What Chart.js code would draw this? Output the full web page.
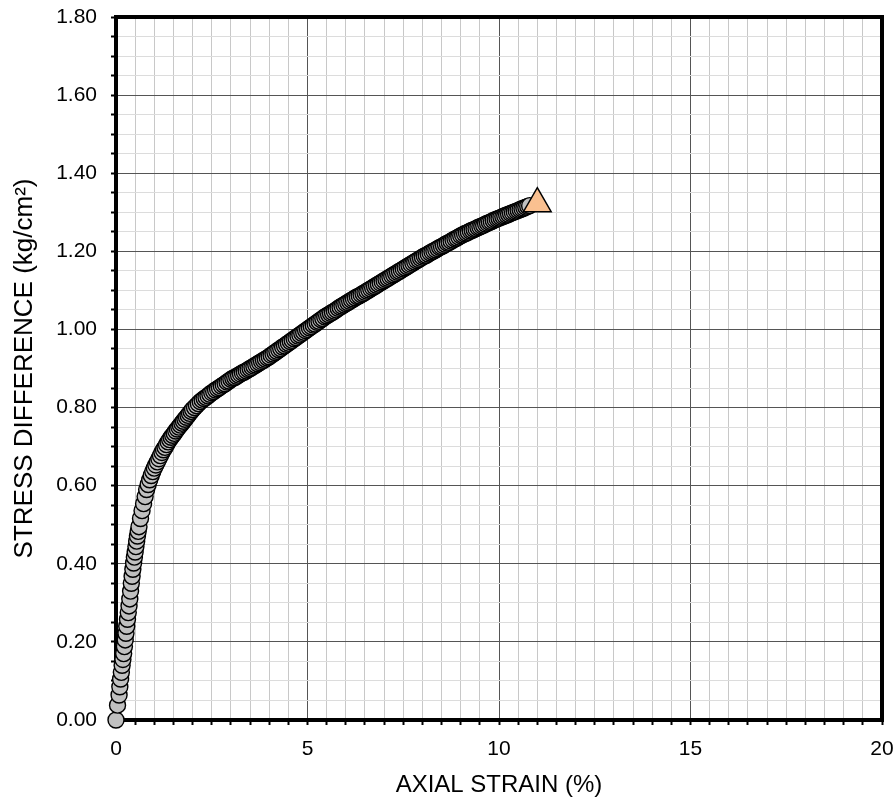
<!DOCTYPE html>
<html><head><meta charset="utf-8">
<script src="https://cdn.jsdelivr.net/npm/chart.js@4.4.1/dist/chart.umd.min.js"></script>
<style>html,body{margin:0;padding:0;background:#fff}canvas{display:block}</style>
</head><body>
<canvas id="c" width="893" height="800"></canvas>
<script>
// Axial strain (%) of each reading
const strain = [
0,0.04,0.08,0.10,0.12,0.14,0.16,0.18,0.20,0.22,0.24,0.26,0.28,0.30,0.32,0.34,0.36,0.38,0.40,0.42,0.44,0.46,0.48,0.50,0.52,0.54,0.56,0.58,0.60,
0.64,0.68,0.72,0.76,0.80,0.84,0.88,0.92,0.96,1.00,1.04,1.08,1.12,1.16,1.20,1.24,1.28,1.32,1.36,1.40,1.44,1.48,1.52,1.56,1.60,1.64,1.68,1.72,1.76,1.80,1.84,1.88,1.92,1.96,2.00,
2.05,2.1,2.15,2.2,2.25,2.3,2.35,2.4,2.45,2.5,2.55,2.6,2.65,2.7,2.75,2.8,2.85,2.9,2.95,
3,3.05,3.1,3.15,3.2,3.25,3.3,3.35,3.4,3.45,3.5,3.55,3.6,3.65,3.7,3.75,3.8,3.85,3.9,3.95,
4,4.05,4.1,4.15,4.2,4.25,4.3,4.35,4.4,4.45,4.5,4.55,4.6,4.65,4.7,4.75,4.8,4.85,4.9,4.95,
5,5.05,5.1,5.15,5.2,5.25,5.3,5.35,5.4,5.45,5.5,5.55,5.6,5.65,5.7,5.75,5.8,5.85,5.9,5.95,
6,6.05,6.1,6.15,6.2,6.25,6.3,6.35,6.4,6.45,6.5,6.55,6.6,6.65,6.7,6.75,6.8,6.85,6.9,6.95,
7,7.05,7.1,7.15,7.2,7.25,7.3,7.35,7.4,7.45,7.5,7.55,7.6,7.65,7.7,7.75,7.8,7.85,7.9,7.95,
8,8.05,8.1,8.15,8.2,8.25,8.3,8.35,8.4,8.45,8.5,8.55,8.6,8.65,8.7,8.75,8.8,8.85,8.9,8.95,
9,9.05,9.1,9.15,9.2,9.25,9.3,9.35,9.4,9.45,9.5,9.55,9.6,9.65,9.7,9.75,9.8,9.85,9.9,9.95,
10,10.05,10.1,10.15,10.2,10.25,10.3,10.35,10.4,10.45,10.5,10.55,10.6,10.65,10.7,10.75,10.8
];
// Stress difference (kg/cm2) of each reading
const stress = [
0.000,0.038,0.064,0.085,0.105,0.122,0.140,0.155,0.170,0.188,0.205,0.222,0.240,0.258,0.275,0.292,0.310,0.330,0.350,0.368,0.386,0.402,0.417,0.430,0.444,0.458,0.471,0.483,0.495,
0.516,0.536,0.554,0.572,0.590,0.603,0.615,0.626,0.636,0.645,0.653,0.661,0.669,0.677,0.685,0.692,0.698,0.705,0.712,0.718,0.724,0.729,0.734,0.740,0.745,0.750,0.755,0.760,0.765,0.770,0.775,0.780,0.785,0.790,0.795,
0.800,0.805,0.810,0.815,0.819,0.823,0.826,0.830,0.834,0.838,0.841,0.845,0.848,0.851,0.855,0.858,0.861,0.865,0.868,
0.872,0.875,0.877,0.880,0.883,0.886,0.889,0.891,0.894,0.897,0.900,0.903,0.906,0.909,0.912,0.915,0.918,0.921,0.924,0.927,
0.930,0.934,0.937,0.941,0.944,0.948,0.951,0.955,0.958,0.962,0.965,0.969,0.972,0.976,0.979,0.983,0.986,0.990,0.993,0.997,
1.000,1.004,1.007,1.011,1.014,1.018,1.021,1.025,1.028,1.032,1.035,1.038,1.041,1.044,1.047,1.050,1.054,1.057,1.060,1.063,
1.066,1.069,1.072,1.075,1.078,1.081,1.084,1.086,1.089,1.092,1.095,1.098,1.101,1.104,1.107,1.110,1.113,1.116,1.119,1.122,
1.125,1.128,1.131,1.134,1.137,1.140,1.143,1.146,1.149,1.152,1.155,1.158,1.161,1.164,1.167,1.170,1.173,1.176,1.179,1.182,
1.185,1.188,1.190,1.193,1.196,1.199,1.201,1.204,1.207,1.210,1.212,1.215,1.218,1.221,1.223,1.226,1.229,1.232,1.234,1.237,
1.240,1.242,1.245,1.247,1.249,1.252,1.254,1.256,1.258,1.261,1.263,1.265,1.267,1.270,1.272,1.274,1.276,1.279,1.281,1.283,
1.285,1.287,1.289,1.291,1.293,1.295,1.297,1.299,1.301,1.303,1.305,1.307,1.309,1.311,1.313,1.315,1.317
];
// Failure (peak) point
const peakStrain = [11.0];
const peakStress = [1.322];
// Labelled ticks
const xTickLabels = [0, 5, 10, 15, 20];
const yTickLabels = [0, 0.2, 0.4, 0.6, 0.8, 1.0, 1.2, 1.4, 1.6, 1.8];

const FONT = '"Liberation Sans", Arial, sans-serif';
const n = Math.min(strain.length, stress.length);
const curve = [];
for (let i = 0; i < n; i++) curve.push({x: strain[i], y: stress[i]});
const peak = peakStrain.map((v, i) => ({x: v, y: peakStress[i]}));

const isMajorX = v => xTickLabels.some(t => Math.abs(t - v) < 1e-6);
const isMajorY = v => yTickLabels.some(t => Math.abs(t - v) < 1e-6);

const frame = {
  id: 'frame',
  beforeDatasetsDraw(chart) {
    const {ctx, chartArea: a} = chart;
    ctx.save();
    ctx.lineWidth = 4;
    ctx.strokeStyle = '#000';
    ctx.strokeRect(a.left, a.top, a.right - a.left, a.bottom - a.top);
    ctx.restore();
  }
};

new Chart(document.getElementById('c'), {
  type: 'scatter',
  data: {
    datasets: [
      {
        label: 'Failure',
        data: peak,
        pointStyle: 'triangle',
        pointRadius: 16,
        pointBackgroundColor: '#FAC090',
        pointBorderColor: '#000',
        pointBorderWidth: 1.5,
        clip: false
      },
      {
        label: 'Test',
        data: curve,
        pointStyle: 'circle',
        pointRadius: 8,
        pointBackgroundColor: '#c0c0c0',
        pointBorderColor: '#000',
        pointBorderWidth: 1.4,
        clip: false
      }
    ]
  },
  options: {
    responsive: false,
    animation: false,
    devicePixelRatio: 1,
    layout: {autoPadding: false, padding: {top: 17, right: 11, left: 0, bottom: 0}},
    plugins: {legend: {display: false}, tooltip: {enabled: false}},
    scales: {
      x: {
        type: 'linear', position: 'bottom', min: 0, max: 20,
        border: {display: false},
        grid: {
          color: c => isMajorX(c.tick.value) ? '#555' : '#c8c8c8',
          lineWidth: 1, tickColor: '#000', tickLength: 5, tickWidth: 2
        },
        ticks: {
          stepSize: 0.5, autoSkip: false, maxRotation: 0, color: '#000', padding: 12,
          font: {family: FONT, size: 21},
          callback: v => isMajorX(v) ? String(Math.round(v)) : ''
        },
        title: {display: true, text: 'AXIAL STRAIN (%)', color: '#000',
          font: {family: FONT, size: 24}, padding: {top: 11, bottom: 0}},
        afterFit: s => { s.height = 80; s.paddingLeft = 0; s.paddingRight = 0; }
      },
      y: {
        type: 'linear', position: 'left', min: 0, max: 1.8,
        border: {display: false},
        grid: {
          color: c => isMajorY(c.tick.value) ? '#555' : '#dcdcdc',
          lineWidth: 1, tickColor: '#000', tickLength: 5, tickWidth: 2
        },
        ticks: {
          stepSize: 0.05, autoSkip: false, color: '#000', padding: 14,
          font: {family: FONT, size: 21},
          callback: v => isMajorY(v) ? v.toFixed(2) : ''
        },
        title: {display: true, text: 'STRESS DIFFERENCE (kg/cm²)', color: '#000',
          font: {family: FONT, size: 26}, padding: {top: 9, bottom: 0}},
        afterFit: s => { s.width = 116; s.paddingTop = 0; s.paddingBottom = 0; }
      }
    }
  },
  plugins: [frame]
});
</script>
</body></html>
